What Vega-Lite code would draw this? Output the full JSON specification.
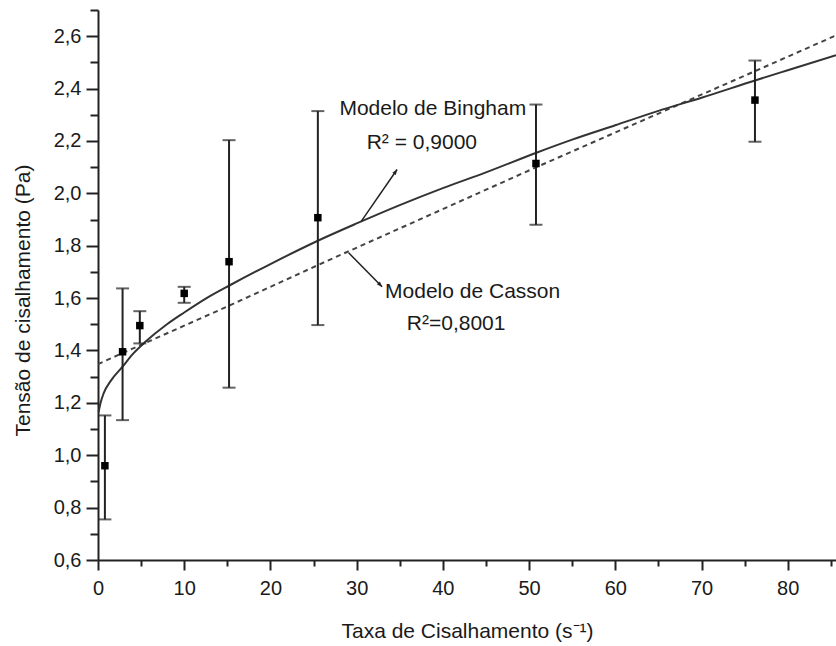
{
  "$schema": "https://vega.github.io/schema/vega-lite/v6.json",
  "width": 738,
  "height": 550,
  "autosize": {"type": "none"},
  "padding": {"left": 98, "top": 10, "right": 0, "bottom": 86},
  "background": "white",
  "config": {
    "view": {"stroke": null},
    "axis": {
      "grid": false,
      "domainColor": "#222",
      "domainWidth": 2,
      "tickColor": "#222",
      "tickWidth": 2,
      "labelFont": "Liberation Sans",
      "labelFontSize": 20,
      "labelColor": "#1a1a1a",
      "titleFont": "Liberation Sans",
      "titleFontSize": 21,
      "titleFontWeight": "normal",
      "titleColor": "#1a1a1a",
      "labelOverlap": false,
      "labelFlush": false
    }
  },
  "resolve": {"axis": {"x": "independent", "y": "independent"}},
  "datasets": {
    "points": [
      {"x": 0.8, "y": 0.96, "lo": 0.755, "hi": 1.152},
      {"x": 2.85, "y": 1.395, "lo": 1.134, "hi": 1.637},
      {"x": 4.85, "y": 1.495, "lo": 1.427, "hi": 1.55},
      {"x": 10.0, "y": 1.618, "lo": 1.582, "hi": 1.643},
      {"x": 15.2, "y": 1.739, "lo": 1.258, "hi": 2.203},
      {"x": 25.5, "y": 1.907, "lo": 1.497, "hi": 2.314},
      {"x": 50.8, "y": 2.114, "lo": 1.88, "hi": 2.339},
      {"x": 76.2, "y": 2.356, "lo": 2.197, "hi": 2.507}
    ],
    "bingham": [
      {"x": 0.07, "y": 1.165},
      {"x": 0.3, "y": 1.2},
      {"x": 0.65, "y": 1.236},
      {"x": 1.5, "y": 1.285},
      {"x": 2.85, "y": 1.338},
      {"x": 4, "y": 1.385},
      {"x": 5.5, "y": 1.433},
      {"x": 8, "y": 1.5},
      {"x": 10, "y": 1.545},
      {"x": 12.5, "y": 1.598},
      {"x": 15.35, "y": 1.65},
      {"x": 20, "y": 1.73},
      {"x": 25.5, "y": 1.819},
      {"x": 30, "y": 1.885},
      {"x": 35, "y": 1.955},
      {"x": 40, "y": 2.02},
      {"x": 45, "y": 2.08},
      {"x": 50.85, "y": 2.155},
      {"x": 55, "y": 2.205},
      {"x": 60, "y": 2.26},
      {"x": 65, "y": 2.315},
      {"x": 70, "y": 2.365},
      {"x": 76.3, "y": 2.432},
      {"x": 80, "y": 2.47},
      {"x": 85.6, "y": 2.527}
    ],
    "casson": [
      {"x": 0, "y": 1.348},
      {"x": 2.85, "y": 1.39},
      {"x": 15.35, "y": 1.573},
      {"x": 25.5, "y": 1.726},
      {"x": 50.85, "y": 2.1},
      {"x": 76.3, "y": 2.468},
      {"x": 85.6, "y": 2.603}
    ],
    "labels": [
      {"x": 38.83, "y": 2.298, "label": "Modelo de Bingham"},
      {"x": 37.56, "y": 2.171, "label": "R² = 0,9000"},
      {"x": 43.45, "y": 1.601, "label": "Modelo de Casson"},
      {"x": 41.54, "y": 1.48, "label": "R²=0,8001"}
    ],
    "arrowB": [
      {"x": 30.55, "y": 1.894, "x2": 34.69, "y2": 2.091}
    ],
    "arrowC": [
      {"x": 29.07, "y": 1.773, "x2": 32.95, "y2": 1.643}
    ]
  },
  "layer": [
    {
      "data": {"name": "casson"},
      "mark": {"type": "line", "color": "#444", "strokeWidth": 2, "strokeDash": [5, 4]},
      "encoding": {
        "x": {
          "field": "x",
          "type": "quantitative",
          "scale": {"domain": [0, 85.6], "nice": false, "zero": false},
          "axis": {
            "orient": "bottom",
            "title": "Taxa de Cisalhamento (s⁻¹)",
            "values": [0, 10, 20, 30, 40, 50, 60, 70, 80],
            "tickSize": 10,
            "labelPadding": 8,
            "titlePadding": 22
          }
        },
        "y": {
          "field": "y",
          "type": "quantitative",
          "scale": {"domain": [0.6, 2.7], "nice": false, "zero": false},
          "axis": {
            "orient": "left",
            "title": "Tensão de cisalhamento (Pa)",
            "values": [0.6, 0.8, 1.0, 1.2, 1.4, 1.6, 1.8, 2.0, 2.2, 2.4, 2.6],
            "labelExpr": "replace(format(datum.value, '.1f'), '.', ',')",
            "tickSize": 12,
            "labelPadding": 5,
            "titlePadding": 20,
            "titleY": 290
          }
        }
      }
    },
    {
      "data": {"name": "bingham"},
      "mark": {"type": "line", "color": "#333", "strokeWidth": 2, "interpolate": "monotone"},
      "encoding": {
        "x": {
          "field": "x",
          "type": "quantitative",
          "axis": {
            "orient": "bottom",
            "values": [5, 15, 25, 35, 45, 55, 65, 75, 85],
            "tickSize": 6,
            "labels": false,
            "domain": false,
            "title": null
          }
        },
        "y": {
          "field": "y",
          "type": "quantitative",
          "axis": {
            "orient": "left",
            "values": [0.7, 0.9, 1.1, 1.3, 1.5, 1.7, 1.9, 2.1, 2.3, 2.5, 2.7],
            "tickSize": 8,
            "labels": false,
            "domain": false,
            "title": null
          }
        }
      }
    },
    {
      "data": {"name": "points"},
      "mark": {"type": "rule", "color": "#222", "strokeWidth": 2},
      "encoding": {
        "x": {"field": "x", "type": "quantitative", "axis": null},
        "y": {"field": "lo", "type": "quantitative", "axis": null},
        "y2": {"field": "hi"}
      }
    },
    {
      "data": {"name": "points"},
      "mark": {"type": "tick", "orient": "horizontal", "size": 13, "thickness": 2, "color": "#222"},
      "encoding": {
        "x": {"field": "x", "type": "quantitative", "axis": null},
        "y": {"field": "lo", "type": "quantitative", "axis": null}
      }
    },
    {
      "data": {"name": "points"},
      "mark": {"type": "tick", "orient": "horizontal", "size": 13, "thickness": 2, "color": "#222"},
      "encoding": {
        "x": {"field": "x", "type": "quantitative", "axis": null},
        "y": {"field": "hi", "type": "quantitative", "axis": null}
      }
    },
    {
      "data": {"name": "points"},
      "mark": {"type": "point", "shape": "square", "filled": true, "color": "#000", "size": 56, "opacity": 1},
      "encoding": {
        "x": {"field": "x", "type": "quantitative", "axis": null},
        "y": {"field": "y", "type": "quantitative", "axis": null}
      }
    },
    {
      "data": {"name": "arrowB"},
      "mark": {"type": "rule", "color": "#222", "strokeWidth": 1.5},
      "encoding": {
        "x": {"field": "x", "type": "quantitative", "axis": null},
        "y": {"field": "y", "type": "quantitative", "axis": null},
        "x2": {"field": "x2"},
        "y2": {"field": "y2"}
      }
    },
    {
      "data": {"name": "arrowB"},
      "mark": {"type": "point", "shape": "M0,0L-0.4,1L0.4,1Z", "filled": true, "color": "#222", "size": 110, "angle": 34.6, "opacity": 1},
      "encoding": {
        "x": {"field": "x2", "type": "quantitative", "axis": null},
        "y": {"field": "y2", "type": "quantitative", "axis": null}
      }
    },
    {
      "data": {"name": "arrowC"},
      "mark": {"type": "rule", "color": "#222", "strokeWidth": 1.5},
      "encoding": {
        "x": {"field": "x", "type": "quantitative", "axis": null},
        "y": {"field": "y", "type": "quantitative", "axis": null},
        "x2": {"field": "x2"},
        "y2": {"field": "y2"}
      }
    },
    {
      "data": {"name": "arrowC"},
      "mark": {"type": "point", "shape": "M0,0L-0.4,1L0.4,1Z", "filled": true, "color": "#222", "size": 110, "angle": 135.5, "opacity": 1},
      "encoding": {
        "x": {"field": "x2", "type": "quantitative", "axis": null},
        "y": {"field": "y2", "type": "quantitative", "axis": null}
      }
    },
    {
      "data": {"name": "labels"},
      "mark": {"type": "text", "font": "Liberation Sans", "fontSize": 21, "color": "#1a1a1a", "align": "center", "baseline": "alphabetic"},
      "encoding": {
        "x": {"field": "x", "type": "quantitative", "axis": null},
        "y": {"field": "y", "type": "quantitative", "axis": null},
        "text": {"field": "label"}
      }
    }
  ]
}
